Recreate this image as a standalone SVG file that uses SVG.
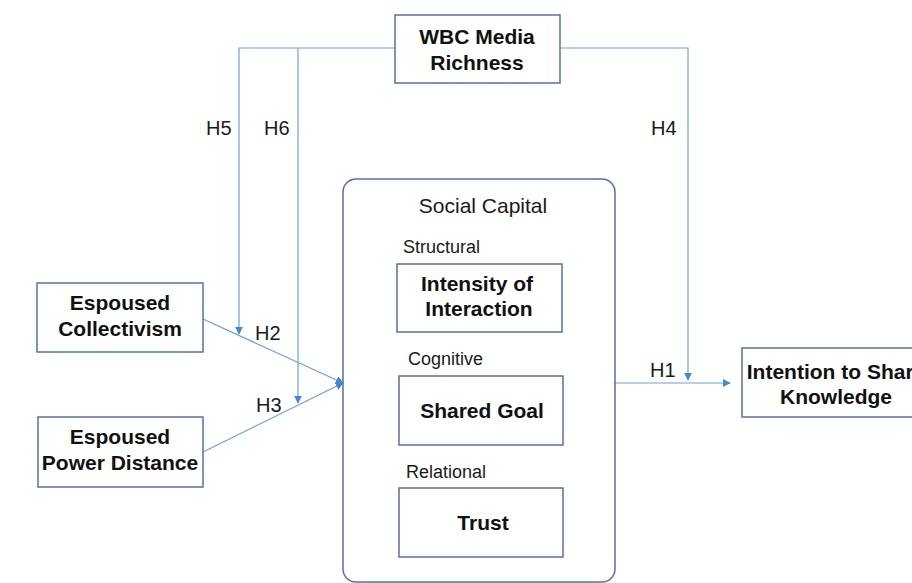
<svg xmlns="http://www.w3.org/2000/svg" width="912" height="583" viewBox="0 0 912 583">
  <style>
    .box { fill: #ffffff; stroke: #56719f; stroke-width: 1.5; }
    .group { fill: none; stroke: #56719f; stroke-width: 1.5; }
    .link { fill: none; stroke: #6f9fdc; stroke-width: 1.2; }
    .title { font-family: "Liberation Sans", Arial, sans-serif; font-weight: bold; font-size: 21px; fill: #111111; text-anchor: middle; }
    .label { font-family: "Liberation Sans", Arial, sans-serif; font-size: 18px; fill: #1a1a1a; }
    .hyp { font-family: "Liberation Sans", Arial, sans-serif; font-size: 20px; fill: #1a1a1a; }
  </style>
  <defs>
    <marker id="arrow" viewBox="0 0 10 10" refX="9" refY="5" markerWidth="8" markerHeight="8" markerUnits="userSpaceOnUse" orient="auto">
      <path d="M0,0 L10,5 L0,10 z" fill="#4a86d0"/>
    </marker>
  </defs>
  <rect width="912" height="583" fill="#ffffff"/>

  <!-- connectors -->
  <g id="connectors">
    <!-- H5: media richness moderates collectivism path -->
    <polyline class="link" points="395,48 239,48 239,334" marker-end="url(#arrow)"/>
    <!-- H6: media richness moderates power distance path -->
    <polyline class="link" points="298,48 298,403" marker-end="url(#arrow)"/>
    <!-- H4: media richness moderates social capital path -->
    <polyline class="link" points="560,48 688,48 688,380" marker-end="url(#arrow)"/>
    <!-- H2 / H3 into social capital -->
    <line class="link" x1="203" y1="319" x2="343" y2="383" marker-end="url(#arrow)"/>
    <line class="link" x1="203" y1="452" x2="343" y2="383" marker-end="url(#arrow)"/>
    <!-- H1 -->
    <line class="link" x1="614" y1="383" x2="730" y2="383" marker-end="url(#arrow)"/>

    <text class="hyp" x="206" y="135">H5</text>
    <text class="hyp" x="264" y="135">H6</text>
    <text class="hyp" x="651" y="135">H4</text>
    <text class="hyp" x="255" y="340">H2</text>
    <text class="hyp" x="256" y="412">H3</text>
    <text class="hyp" x="650" y="377">H1</text>
  </g>

  <g id="wbc-media-richness">
    <rect class="box" x="395" y="15" width="165" height="68"/>
    <text class="title" x="477" y="44">WBC Media</text>
    <text class="title" x="477" y="70">Richness</text>
  </g>

  <g id="espoused-collectivism">
    <rect class="box" x="37" y="283" width="166" height="69"/>
    <text class="title" x="120" y="310">Espoused</text>
    <text class="title" x="120" y="336">Collectivism</text>
  </g>

  <g id="espoused-power-distance">
    <rect class="box" x="38" y="417" width="165" height="70"/>
    <text class="title" x="120" y="444">Espoused</text>
    <text class="title" x="120" y="470">Power Distance</text>
  </g>

  <g id="social-capital">
    <rect class="group" x="343" y="179" width="272" height="403" rx="13"/>
    <text class="label" x="483" y="213" text-anchor="middle" style="font-size:21px">Social Capital</text>
    <text class="label" x="403" y="253">Structural</text>
    <text class="label" x="408" y="365">Cognitive</text>
    <text class="label" x="406" y="478">Relational</text>
  </g>

  <g id="intensity-of-interaction">
    <rect class="box" x="397" y="264" width="165" height="68"/>
    <text class="title" x="477" y="291">Intensity of</text>
    <text class="title" x="479" y="316">Interaction</text>
  </g>

  <g id="shared-goal">
    <rect class="box" x="399" y="376" width="164" height="69"/>
    <text class="title" x="482" y="418">Shared Goal</text>
  </g>

  <g id="trust">
    <rect class="box" x="399" y="488" width="164" height="69"/>
    <text class="title" x="483" y="530">Trust</text>
  </g>

  <g id="intention-to-share-knowledge">
    <rect class="box" x="742" y="348" width="190" height="69"/>
    <text class="title" x="836" y="379">Intention to Share</text>
    <text class="title" x="836" y="404">Knowledge</text>
  </g>
</svg>
